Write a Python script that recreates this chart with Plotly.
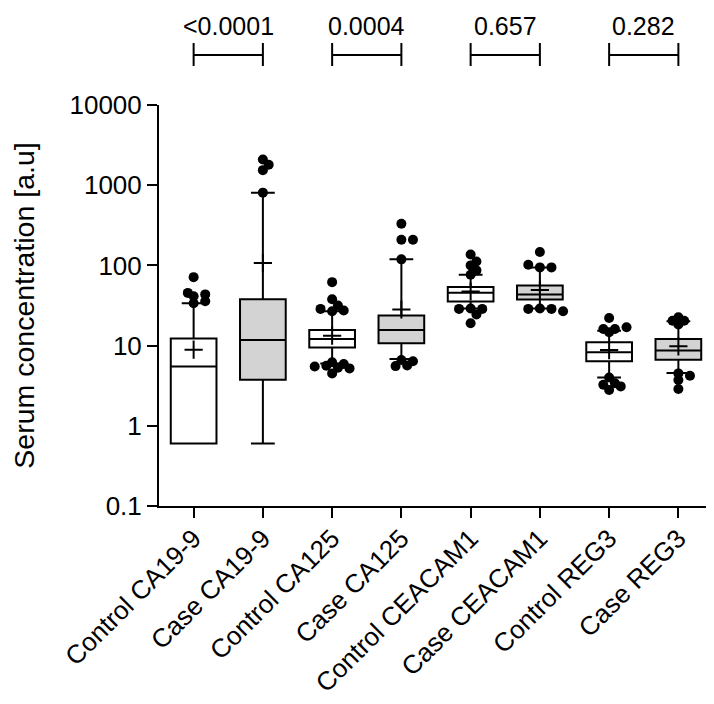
import numpy as np
import plotly.graph_objects as go

# groups, in plotting order
labels = ["Control CA19-9", "Case CA19-9", "Control CA125", "Case CA125",
          "Control CEACAM1", "Case CEACAM1", "Control REG3", "Case REG3"]

# box statistics
q1 = [0.6, 3.76, 9.5, 10.7, 35.5, 37.6, 6.37, 6.68]
median = [5.47, 11.75, 12.1, 15.7, 45.5, 43.4, 8.25, 8.66]
q3 = [12.3, 37.9, 15.7, 23.7, 53.6, 56.2, 11.0, 12.1]
whisker_low = [0.6, 0.6, 6.0, 6.8, 29.0, 29.0, 4.0, 4.55]
whisker_high = [33.8, 808, 26.8, 119, 76.3, 94.4, 15.3, 20.1]
mean = [8.9, 107, 13.3, 28.2, 47.3, 49.5, 8.8, 9.8]

# points outside the whiskers
outliers = [
    [71.4, 45.4, 43.5, 41.3, 35.8, 33.8],
    [2090, 1795, 1540, 808],
    [61.8, 37.9, 31.6, 28.7, 27.4, 26.8, 6.2, 5.9, 5.6, 5.5, 5.3, 5.2, 4.5],
    [331, 209, 209, 119, 6.6, 6.37, 5.65, 5.55],
    [137, 112, 100, 86.6, 76.3, 29.0, 28.7, 28.7, 24.4, 19.0],
    [147, 102, 94.4, 94.4, 29.0, 28.7, 28.7, 26.8],
    [22.1, 16.9, 16.1, 16.1, 14.7, 4.0, 3.4, 3.25, 3.1, 2.79],
    [22.6, 20.4, 20.4, 18.3, 4.5, 4.2, 3.72, 2.87],
]

p_values = ["<0.0001", "0.0004", "0.657", "0.282"]

FONT = "Liberation Sans, Arial, sans-serif"
W, H = 714, 704
ML, MR, MT, MB = 151, 9, 97, 206
px_cat = (W - ML - MR) / 8.0
px_dec = (H - MT - MB) / 5.0
DOT = 10


def swarm(values, centre, mid):
    # simple beeswarm: points nearest the box are placed first
    xs = [None] * len(values)
    placed = []
    order = sorted(range(len(values)), key=lambda i: abs(np.log10(values[i]) - np.log10(mid)))
    step = 5.8
    cands = [0]
    for k in range(1, 12):
        cands += [k * step, -k * step]
    for i in order:
        yp = np.log10(values[i]) * px_dec
        for c in cands:
            if all((c - px) ** 2 + (yp - py) ** 2 >= 6.5 ** 2 for px, py in placed):
                placed.append((c, yp))
                xs[i] = centre + c / px_cat
                break
    return xs


fig = go.Figure()

for start, fill in [(0, "white"), (1, "#d3d3d3")]:
    idx = list(range(start, 8, 2))
    fig.add_trace(go.Box(
        x=idx,
        q1=[q1[i] for i in idx],
        median=[median[i] for i in idx],
        q3=[q3[i] for i in idx],
        lowerfence=[whisker_low[i] for i in idx],
        upperfence=[whisker_high[i] for i in idx],
        boxpoints=False,
        width=0.66,
        whiskerwidth=0.52,
        fillcolor=fill,
        line=dict(color="black", width=2),
        hoverinfo="skip",
        showlegend=False,
    ))

# mean markers
fig.add_trace(go.Scatter(
    x=list(range(8)), y=mean, mode="markers",
    marker=dict(symbol="cross-thin", size=13, line=dict(color="black", width=2)),
    showlegend=False, hoverinfo="skip",
))

# outlier dots
ox, oy = [], []
for i, vals in enumerate(outliers):
    up = [v for v in vals if v >= median[i]]
    lo = [v for v in vals if v < median[i]]
    for grp in (up, lo):
        if grp:
            ox += swarm(grp, i, median[i])
            oy += grp
fig.add_trace(go.Scatter(
    x=ox, y=oy, mode="markers",
    marker=dict(color="black", size=DOT),
    showlegend=False, hoverinfo="skip",
))

# comparison brackets with p-values
y_bar, y_top, y_bot = 1.1247, 1.1546, 1.0973
for k, p in enumerate(p_values):
    a, b = 2 * k, 2 * k + 1
    line = dict(color="black", width=2)
    fig.add_shape(type="line", xref="x", yref="paper", x0=a, x1=b, y0=y_bar, y1=y_bar, line=line)
    fig.add_shape(type="line", xref="x", yref="paper", x0=a, x1=a, y0=y_bot, y1=y_top, line=line)
    fig.add_shape(type="line", xref="x", yref="paper", x0=b, x1=b, y0=y_bot, y1=y_top, line=line)
    fig.add_annotation(x=(a + b) / 2, y=1.197, xref="x", yref="paper", text=p,
                       showarrow=False, yanchor="middle",
                       font=dict(size=25, color="black", family=FONT))

fig.update_layout(
    template="none",
    width=W, height=H,
    margin=dict(l=ML, r=MR, t=MT, b=MB),
    plot_bgcolor="white", paper_bgcolor="white",
    boxmode="overlay",
    font=dict(family=FONT, color="black", size=26),
)
fig.update_xaxes(
    automargin=False,
    range=[-0.5, 7.5], tickvals=list(range(8)), ticktext=labels, tickangle=-45,
    showline=True, linecolor="black", linewidth=2, ticks="outside", ticklen=10,
    tickwidth=2, tickcolor="black", showgrid=False, zeroline=False,
    tickfont=dict(size=26), ticklabelstandoff=-5,
)
fig.update_yaxes(
    automargin=False,
    type="log", range=[-1, 4],
    tickvals=[0.1, 1, 10, 100, 1000, 10000],
    ticktext=["0.1", "1", "10", "100", "1000", "10000"],
    showline=True, linecolor="black", linewidth=2, ticks="outside", ticklen=10,
    tickwidth=2, tickcolor="black", showgrid=False, zeroline=False,
    tickfont=dict(size=26),
    title=dict(text="Serum concentration [a.u]", font=dict(size=28.5), standoff=33),
)

fig.write_html("out.html")
